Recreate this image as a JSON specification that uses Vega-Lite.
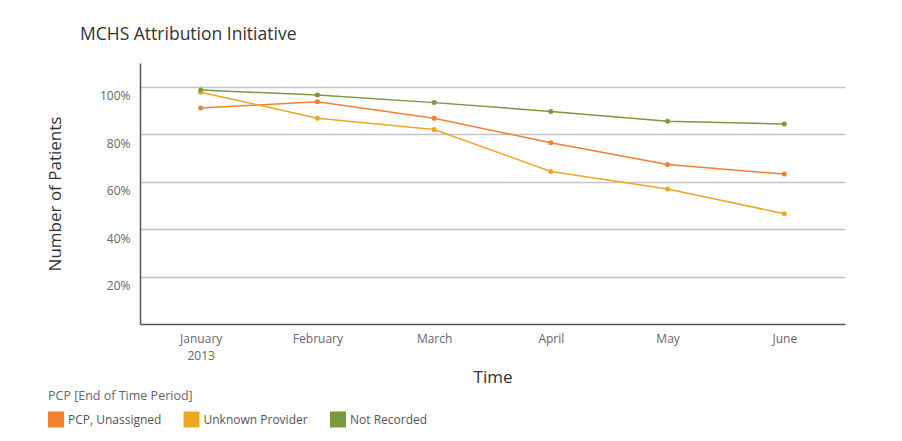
{
  "$schema": "https://vega.github.io/schema/vega-lite/v6.json",
  "autosize": {"type": "none"},
  "width": 705,
  "height": 261,
  "padding": {"left": 140, "top": 63, "right": 57, "bottom": 117},
  "background": "white",
  "title": {
    "text": "MCHS Attribution Initiative",
    "anchor": "start",
    "frame": "group",
    "dx": -60,
    "offset": 20,
    "font": "Open Sans",
    "fontSize": 17.5,
    "fontWeight": "normal",
    "color": "#333333"
  },
  "config": {
    "view": {"stroke": null},
    "font": "Open Sans",
    "axis": {
      "labelFont": "Open Sans",
      "titleFont": "Open Sans",
      "labelColor": "#666666",
      "labelFontSize": 12,
      "titleColor": "#333333",
      "titleFontSize": 17,
      "titleFontWeight": "normal",
      "domainColor": "#555555",
      "domainWidth": 1.5,
      "ticks": false,
      "tickSize": 0,
      "gridColor": "#c4c4c4",
      "gridWidth": 1.5
    },
    "legend": {
      "labelFont": "Open Sans",
      "titleFont": "Open Sans"
    }
  },
  "data": {
    "values": [
      {"month": "January", "series": "PCP, Unassigned", "value": 0.910},
      {"month": "February", "series": "PCP, Unassigned", "value": 0.937},
      {"month": "March", "series": "PCP, Unassigned", "value": 0.867},
      {"month": "April", "series": "PCP, Unassigned", "value": 0.764},
      {"month": "May", "series": "PCP, Unassigned", "value": 0.672},
      {"month": "June", "series": "PCP, Unassigned", "value": 0.632},
      {"month": "January", "series": "Unknown Provider", "value": 0.977},
      {"month": "February", "series": "Unknown Provider", "value": 0.867},
      {"month": "March", "series": "Unknown Provider", "value": 0.820},
      {"month": "April", "series": "Unknown Provider", "value": 0.643},
      {"month": "May", "series": "Unknown Provider", "value": 0.569},
      {"month": "June", "series": "Unknown Provider", "value": 0.465},
      {"month": "January", "series": "Not Recorded", "value": 0.986},
      {"month": "February", "series": "Not Recorded", "value": 0.965},
      {"month": "March", "series": "Not Recorded", "value": 0.933},
      {"month": "April", "series": "Not Recorded", "value": 0.896},
      {"month": "May", "series": "Not Recorded", "value": 0.855},
      {"month": "June", "series": "Not Recorded", "value": 0.843}
    ]
  },
  "encoding": {
    "x": {
      "field": "month",
      "type": "ordinal",
      "sort": ["January", "February", "March", "April", "May", "June"],
      "scale": {"type": "point", "padding": 0.52},
      "axis": {
        "title": "Time",
        "labelAngle": 0,
        "labelPadding": 9,
        "labelLineHeight": 17,
        "labelExpr": "datum.value == 'January' ? ['January', '2013'] : datum.value",
        "titlePadding": 8,
        "grid": false
      }
    },
    "y": {
      "field": "value",
      "type": "quantitative",
      "scale": {"domain": [0, 1.1], "nice": false, "zero": true},
      "axis": {
        "title": "Number of Patients",
        "values": [0.2, 0.4, 0.6, 0.8, 1.0],
        "format": ".0%",
        "grid": true,
        "labelPadding": 10,
        "labelBaseline": "top",
        "labelOffset": 4,
        "titlePadding": 35
      }
    },
    "color": {
      "field": "series",
      "type": "nominal",
      "scale": {
        "domain": ["PCP, Unassigned", "Unknown Provider", "Not Recorded"],
        "range": ["#F47F2E", "#ECA822", "#789A3D"]
      },
      "legend": {
        "title": "PCP [End of Time Period]",
        "orient": "none",
        "legendX": -92,
        "legendY": 327,
        "direction": "horizontal",
        "titleFontSize": 12.5,
        "titleColor": "#666666",
        "titleFontWeight": "normal",
        "titlePadding": 9,
        "labelFontSize": 12,
        "labelColor": "#555555",
        "symbolType": "square",
        "symbolSize": 256,
        "symbolStrokeWidth": 0,
        "labelOffset": 4,
        "columnPadding": 21.5
      }
    }
  },
  "layer": [
    {"mark": {"type": "point", "filled": true, "size": 25, "opacity": 1}},
    {"mark": {"type": "line", "strokeWidth": 1.5}}
  ]
}
